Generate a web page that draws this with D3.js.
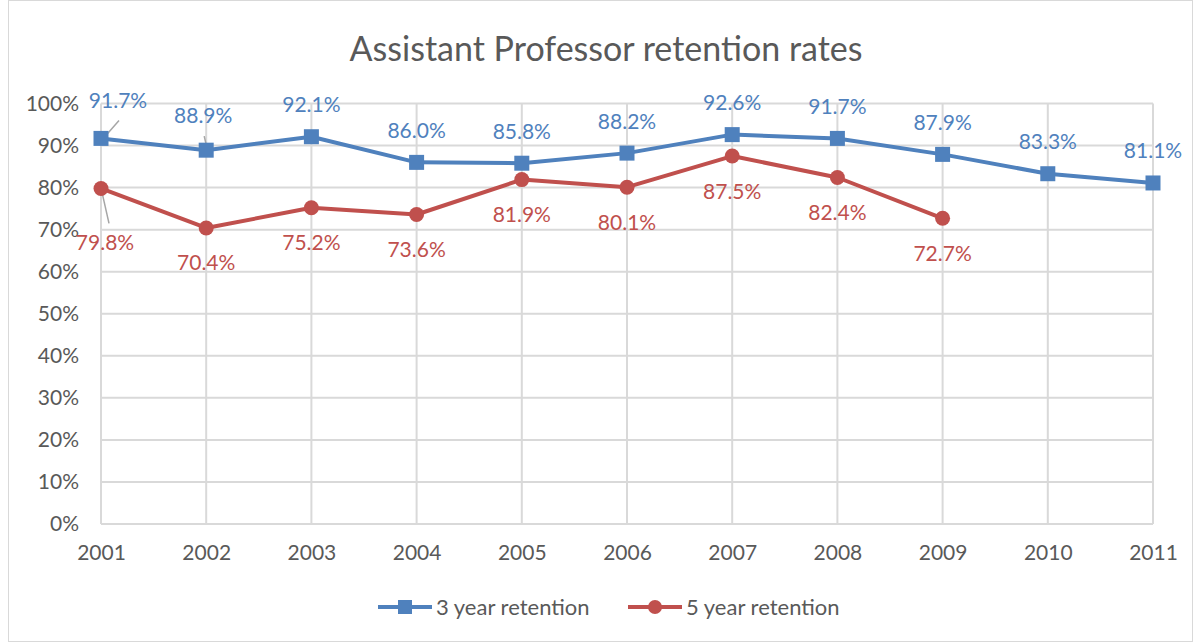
<!DOCTYPE html>
<html>
<head>
<meta charset="utf-8">
<script src="https://cdn.jsdelivr.net/npm/d3@7"></script>
<style>
  body { margin: 0; background: #fff; }
  svg text { font-family: Lato, "Open Sans", sans-serif; }
</style>
</head>
<body>
<div id="chart"></div>
<script>
// Data
var years = ["2001", "2002", "2003", "2004", "2005", "2006", "2007", "2008", "2009", "2010", "2011"];
var threeYear = [91.7, 88.9, 92.1, 86.0, 85.8, 88.2, 92.6, 91.7, 87.9, 83.3, 81.1];
var fiveYear = [79.8, 70.4, 75.2, 73.6, 81.9, 80.1, 87.5, 82.4, 72.7];
var yTicks = [0, 10, 20, 30, 40, 50, 60, 70, 80, 90, 100];
var seriesNames = ["3 year retention", "5 year retention"];

var width = 1198, height = 642;
var margin = {top: 103.5, right: 45, bottom: 118, left: 101};
var blue = "#4f81bd", red = "#c0504d", grid = "#d9d9d9", textCol = "#595959";

var svg = d3.select("#chart").append("svg")
	.attr("width", width)
	.attr("height", height);

// outer frame
svg.append("rect")
	.attr("x", 8.5).attr("y", 0.5)
	.attr("width", width - 14).attr("height", height - 1)
	.attr("fill", "#fff")
	.attr("stroke", grid);

var x = d3.scalePoint().domain(years).range([margin.left, width - margin.right]);
var y = d3.scaleLinear().domain([0, 100]).range([height - margin.bottom, margin.top]);

// title
svg.append("text")
	.attr("x", 606).attr("y", 61)
	.attr("text-anchor", "middle")
	.attr("fill", textCol)
	.style("font-size", "34px")
	.text("Assistant Professor retention rates");

// gridlines
var g = svg.append("g");
g.selectAll(".hgrid").data(yTicks).enter().append("line")
	.attr("x1", margin.left).attr("x2", width - margin.right)
	.attr("y1", d => y(d)).attr("y2", d => y(d))
	.attr("stroke", grid).attr("stroke-width", 2);
g.selectAll(".vgrid").data(years).enter().append("line")
	.attr("x1", d => x(d)).attr("x2", d => x(d))
	.attr("y1", y(100)).attr("y2", y(0))
	.attr("stroke", grid).attr("stroke-width", 2);

// axes (labels only)
var yAxis = d3.axisLeft(y).tickValues(yTicks).tickSize(0).tickPadding(22).tickFormat(d => d + "%");
svg.append("g").attr("transform", `translate(${margin.left},0)`).call(yAxis)
	.call(a => a.select(".domain").remove())
	.selectAll("text").attr("fill", textCol).style("font-size", "21px");

var xAxis = d3.axisBottom(x).tickSize(0).tickPadding(21);
svg.append("g").attr("transform", `translate(0,${y(0)})`).call(xAxis)
	.call(a => a.select(".domain").remove())
	.selectAll("text").attr("fill", textCol).style("font-size", "21px");

var line = d3.line().x((d, i) => x(years[i])).y(d => y(d));

// leader lines for offset labels
var leaders = [
	[x("2001") + 4, y(91.7) - 2, x("2001") + 18, y(91.7) - 18],
	[x("2002") - 2, y(88.9) - 14, x("2002") + 1, y(88.9) - 1],
	[x("2001") + 1, y(79.8) + 4, x("2001") + 8, y(79.8) + 35]
];
svg.selectAll(".leader").data(leaders).enter().append("line")
	.attr("x1", d => d[0]).attr("y1", d => d[1])
	.attr("x2", d => d[2]).attr("y2", d => d[3])
	.attr("stroke", "#a6a6a6").attr("stroke-width", 1.5);

// 5 year series
svg.append("path").datum(fiveYear)
	.attr("d", line).attr("fill", "none")
	.attr("stroke", red).attr("stroke-width", 4).attr("stroke-linejoin", "round");
svg.selectAll(".dot5").data(fiveYear).enter().append("circle")
	.attr("cx", (d, i) => x(years[i])).attr("cy", d => y(d))
	.attr("r", 7.5).attr("fill", red);

// 3 year series
svg.append("path").datum(threeYear)
	.attr("d", line).attr("fill", "none")
	.attr("stroke", blue).attr("stroke-width", 4).attr("stroke-linejoin", "round");
svg.selectAll(".dot3").data(threeYear).enter().append("rect")
	.attr("x", (d, i) => x(years[i]) - 7.5).attr("y", d => y(d) - 7.5)
	.attr("width", 15).attr("height", 15).attr("fill", blue);

// data labels
var blueOff = threeYear.map(() => [0, -32]);
blueOff[0] = [17, -38];
blueOff[1] = [-3, -35];
svg.selectAll(".lbl3").data(threeYear).enter().append("text")
	.attr("x", (d, i) => x(years[i]) + blueOff[i][0])
	.attr("y", (d, i) => y(d) + blueOff[i][1] + 7.5)
	.attr("text-anchor", "middle")
	.attr("fill", blue).style("font-size", "21px")
	.text(d => d.toFixed(1) + "%");

var redOff = fiveYear.map(() => [0, 35]);
redOff[0] = [4, 54];
svg.selectAll(".lbl5").data(fiveYear).enter().append("text")
	.attr("x", (d, i) => x(years[i]) + redOff[i][0])
	.attr("y", (d, i) => y(d) + redOff[i][1] + 7.5)
	.attr("text-anchor", "middle")
	.attr("fill", red).style("font-size", "21px")
	.text(d => d.toFixed(1) + "%");

// legend
var legend = [
	{name: seriesNames[0], color: blue, x0: 378, shape: "rect"},
	{name: seriesNames[1], color: red, x0: 628, shape: "circle"}
];
var ly = 607;
legend.forEach(function(l){
	svg.append("line")
		.attr("x1", l.x0).attr("x2", l.x0 + 54)
		.attr("y1", ly).attr("y2", ly)
		.attr("stroke", l.color).attr("stroke-width", 4);
	if (l.shape == "rect"){
		svg.append("rect").attr("x", l.x0 + 20).attr("y", ly - 7)
			.attr("width", 14).attr("height", 14).attr("fill", l.color);
	} else {
		svg.append("circle").attr("cx", l.x0 + 27).attr("cy", ly)
			.attr("r", 7).attr("fill", l.color);
	}
	svg.append("text")
		.attr("x", l.x0 + 58).attr("y", ly + 7.5)
		.attr("fill", textCol).style("font-size", "22px")
		.text(l.name);
});
</script>
</body>
</html>
